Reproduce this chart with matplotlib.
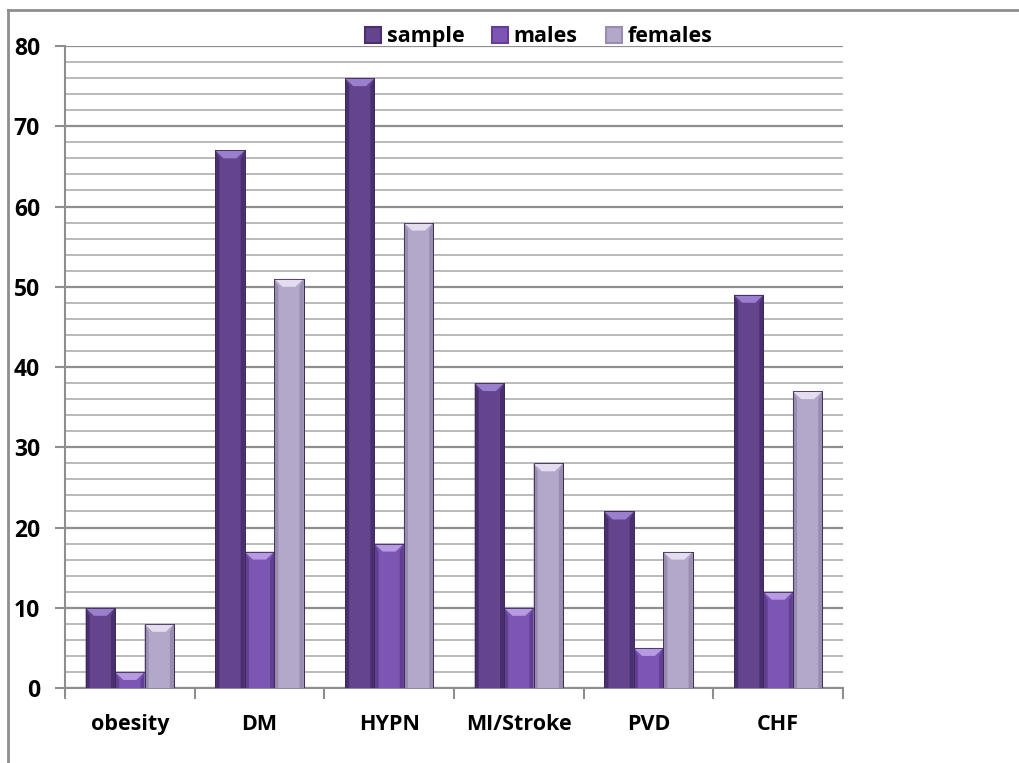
import matplotlib
matplotlib.use("Agg")
import matplotlib.pyplot as plt
from matplotlib.patches import Polygon, Patch
from matplotlib.lines import Line2D
import numpy as np

categories = ["obesity", "DM", "HYPN", "MI/Stroke", "PVD", "CHF"]
series_names = ["sample", "males", "females"]
sample = [10, 67, 76, 38, 22, 49]
males = [2, 17, 18, 10, 5, 12]
females = [8, 51, 58, 28, 17, 37]

body_colors = ["#63448d", "#7d55b3", "#b4a8ca"]
side_colors = ["#4a2f70", "#623e95", "#988daf"]
top_colors = ["#9a7fce", "#b79be2", "#e4ddf0"]

FONT = ["Open Sans", "DejaVu Sans"]
plt.rcParams["font.family"] = FONT
plt.rcParams["font.weight"] = "bold"

fig = plt.figure(figsize=(10.2, 7.63), dpi=100)
ax = fig.add_axes([0.0637, 0.0983, 0.7628, 0.8414])

x = np.arange(len(categories))
width = 0.227
offsets = [-width, 0.0, width]

for vals, off, body, side, top in zip([sample, males, females], offsets,
                                     body_colors, side_colors, top_colors):
    bars = ax.bar(x + off, vals, width, color=body, edgecolor="#3a2a55",
                  linewidth=0.6, zorder=3)
    for b in bars:
        x0 = b.get_x()
        w = b.get_width()
        h = b.get_height()
        x1 = x0 + w
        s = w * 0.14
        d = min(1.0, h / 2.0)
        # darker side facets
        ax.add_patch(Polygon([(x0, 0), (x0, h), (x0 + s, h - d), (x0 + s, 0)],
                             closed=True, facecolor=side, edgecolor="none", zorder=4))
        ax.add_patch(Polygon([(x1, 0), (x1, h), (x1 - s, h - d), (x1 - s, 0)],
                             closed=True, facecolor=side, edgecolor="none", zorder=4))
        # lighter chevron on the top face
        ax.add_patch(Polygon([(x0, h), (x1, h), (x1 - 0.28 * w, h - d), (x0 + 0.28 * w, h - d)],
                             closed=True, facecolor=top, edgecolor="none", zorder=4))
        ax.add_patch(Polygon([(x0, 0), (x0, h), (x1, h), (x1, 0)], closed=True,
                             facecolor="none", edgecolor="#3a2a55", linewidth=0.6, zorder=5))

ax.set_xlim(-0.5, len(categories) - 0.5)
ax.set_ylim(0, 80)
ax.set_yticks(np.arange(0, 81, 10))
ax.set_yticks(np.arange(0, 81, 2), minor=True)
ax.grid(axis="y", which="minor", color="#b4b4b4", linewidth=1.3, zorder=0)
ax.grid(axis="y", which="major", color="#8e8e8e", linewidth=1.6, zorder=1)
ax.set_axisbelow(True)

ax.set_xticks(x)
ax.set_xticklabels(categories)
ax.set_xticks(np.arange(-0.5, len(categories), 1.0), minor=True)
ax.tick_params(axis="x", which="major", length=0, pad=19, labelsize=15.5)
ax.tick_params(axis="x", which="minor", length=8, width=1.5, color="#8e8e8e")
ax.tick_params(axis="y", which="major", length=7, width=1.5, color="#8e8e8e",
               labelsize=16.5, pad=11)
ax.tick_params(axis="y", which="minor", length=0)
for lbl in ax.get_xticklabels() + ax.get_yticklabels():
    lbl.set_fontweight("bold")
    lbl.set_family(FONT)

for sp in ["top", "right"]:
    ax.spines[sp].set_visible(False)
for sp in ["left", "bottom"]:
    ax.spines[sp].set_color("#8e8e8e")
    ax.spines[sp].set_linewidth(1.5)

handles = [Patch(facecolor=body_colors[i], edgecolor=side_colors[i], linewidth=1.5)
           for i in range(3)]
fig.legend(handles, series_names, loc="center", bbox_to_anchor=(0.528, 0.952),
           ncol=3, frameon=False, prop={"family": FONT, "weight": "bold", "size": 15.5},
           handlelength=0.75, handleheight=0.75, handletextpad=0.25, columnspacing=1.3)

# outer frame lines
fig.add_artist(Line2D([8 / 1020, 1.0], [1 - 10 / 763, 1 - 10 / 763],
                      transform=fig.transFigure, color="#8e8e8e", linewidth=2))
fig.add_artist(Line2D([8 / 1020, 8 / 1020], [0.0, 1 - 10 / 763],
                      transform=fig.transFigure, color="#8e8e8e", linewidth=2))

fig.savefig("out.png", dpi=100)
